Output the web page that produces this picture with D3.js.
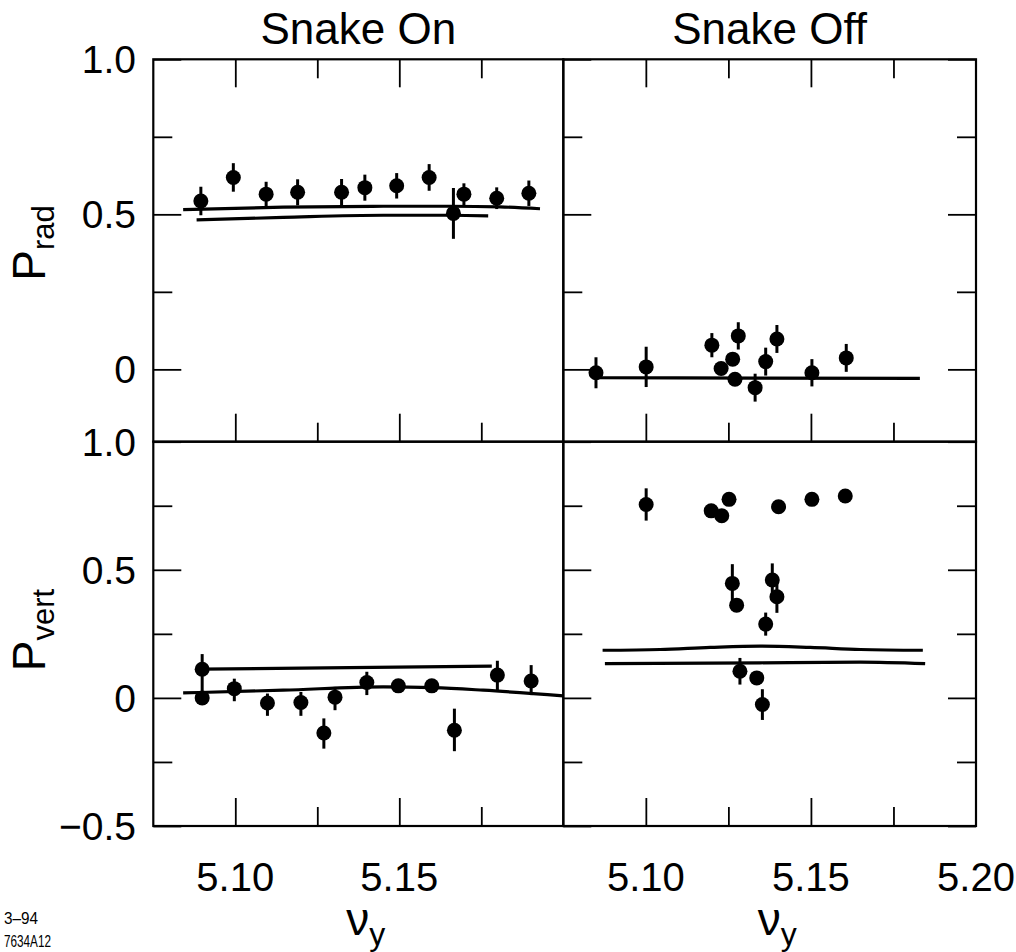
<!DOCTYPE html>
<html><head><meta charset="utf-8">
<script src="https://cdn.jsdelivr.net/npm/d3@7"></script>
<style>
body{margin:0;background:#fff}
svg{display:block}
text{font-family:"Liberation Sans",Arial,Helvetica,sans-serif;fill:#000}
</style>
</head><body>
<svg id="chart" width="1016" height="952"></svg>
<script>
// ---------- data ----------
const panelTitles = ["Snake On", "Snake Off"];
const yTitles = ["P", "rad", "P", "vert"];
const xTickLabelsLeft = [5.10, 5.15];
const xTickLabelsRight = [5.10, 5.15, 5.20];
const xMajor = [5.10, 5.15];
const xMinor = [5.125, 5.175];
const yTopLabels = [1.0, 0.5, 0];
const yTopMajor = [0, 0.5, 1.0];
const yTopMinor = [0.25, 0.75];
const yBotLabels = [1.0, 0.5, 0, -0.5];
const yBotMajor = [-0.5, 0, 0.5, 1.0];
const yBotMinor = [-0.25, 0.25, 0.75];

// Snake On, P_rad
const nuOnRad  = [5.0895, 5.0994, 5.1094, 5.1190, 5.1324, 5.1395, 5.1492, 5.1591, 5.1665, 5.1697, 5.1797, 5.1895];
const pOnRad   = [0.543, 0.619, 0.565, 0.571, 0.571, 0.586, 0.592, 0.619, 0.503, 0.565, 0.552, 0.568];
const errOnRad = [0.046, 0.046, 0.040, 0.042, 0.043, 0.042, 0.041, 0.043, 0.082, 0.035, 0.035, 0.041];
const calcOnRadA_nu = [5.0841, 5.1146, 5.1451, 5.1655, 5.1807, 5.1929];
const calcOnRadA_p  = [0.515, 0.523, 0.526, 0.526, 0.524, 0.518];
const calcOnRadB_nu = [5.0882, 5.1146, 5.1451, 5.1655, 5.1771];
const calcOnRadB_p  = [0.482, 0.490, 0.497, 0.497, 0.495];

// Snake Off, P_rad
const nuOffRad  = [5.0849, 5.1001, 5.1200, 5.1228, 5.1263, 5.1280, 5.1270, 5.1331, 5.1363, 5.1397, 5.1503, 5.1607];
const pOffRad   = [-0.011, 0.008, 0.078, 0.003, 0.033, 0.108, -0.032, -0.059, 0.025, 0.098, -0.011, 0.037];
const errOffRad = [0.050, 0.065, 0.039, 0.020, 0.020, 0.044, 0.020, 0.045, 0.045, 0.045, 0.044, 0.045];
const calcOffRad_nu = [5.0851, 5.1340, 5.1830];
const calcOffRad_p  = [-0.027, -0.028, -0.029];

// Snake On, P_vert
const nuOnVert    = [5.0899, 5.0899, 5.0997, 5.1098, 5.1200, 5.1270, 5.1304, 5.1401, 5.1497, 5.1599, 5.1668, 5.1799, 5.1902];
const pOnVert     = [0.112, 0.000, 0.036, -0.020, -0.018, -0.137, 0.003, 0.060, 0.047, 0.047, -0.126, 0.089, 0.066];
const errOnVertHi = [0.059, 0.020, 0.039, 0.037, 0.041, 0.057, 0.040, 0.042, 0.020, 0.020, 0.084, 0.056, 0.062];
const errOnVertLo = [0.112, 0.020, 0.049, 0.050, 0.052, 0.061, 0.051, 0.049, 0.020, 0.020, 0.082, 0.059, 0.055];
const calcOnVertA_nu = [5.0899, 5.1782];
const calcOnVertA_p  = [0.112, 0.124];
const calcOnVertB_nu = [5.0841, 5.1146, 5.1451, 5.1604, 5.1756, 5.2000];
const calcOnVertB_p  = [0.0195, 0.030, 0.043, 0.040, 0.030, 0.008];

// Snake Off, P_vert
const nuOffVert  = [5.1001, 5.1198, 5.1230, 5.1252, 5.1402, 5.1503, 5.1604, 5.1262, 5.1275, 5.1383, 5.1397, 5.1363, 5.1285, 5.1336, 5.1353];
const pOffVert   = [0.755, 0.730, 0.711, 0.775, 0.746, 0.775, 0.788, 0.447, 0.362, 0.460, 0.395, 0.288, 0.104, 0.078, -0.026];
const errOffVert = [0.063, 0.020, 0.020, 0.020, 0.020, 0.020, 0.020, 0.075, 0.020, 0.065, 0.063, 0.045, 0.052, 0.020, 0.060];
const calcOffVertA_nu = [5.0869, 5.1043, 5.1195, 5.1346, 5.1498, 5.1650, 5.1839];
const calcOffVertA_p  = [0.186, 0.189, 0.197, 0.202, 0.197, 0.189, 0.186];
const calcOffVertB_nu = [5.0876, 5.1346, 5.1650, 5.1846];
const calcOffVertB_p  = [0.134, 0.137, 0.140, 0.134];

const stamp = ["3\u201394", "7634A12"];

// ---------- layout ----------
const svg = d3.select("#chart");
svg.append("rect").attr("width", 1016).attr("height", 952).attr("fill", "#fff");

const xDomain = [5.075, 5.20];
const xLeft  = d3.scaleLinear().domain(xDomain).range([153.3, 563.3]);
const xRight = d3.scaleLinear().domain(xDomain).range([563.3, 976]);
const yTop = d3.scaleLinear().domain([-0.2333, 1.0]).range([441.7, 59.3]);
const yBot = d3.scaleLinear().domain([-0.5, 1.0]).range([826, 441.7]);

const MAJ = 28, MIN = 19;

function tickGroup(axisGen, scale, values, size, tx, ty) {
  const g = svg.append("g").attr("transform", `translate(${tx},${ty})`)
    .call(axisGen(scale).tickValues(values).tickSize(size).tickFormat(""));
  g.select(".domain").remove();
  g.selectAll("line").attr("stroke", "#000").attr("stroke-width", 1.8);
  return g;
}

function panel(x, y, opts) {
  const [x0, x1] = x.range();
  const [y1, y0] = y.range();
  svg.append("rect").attr("x", x0).attr("y", y0).attr("width", x1 - x0).attr("height", y1 - y0)
    .attr("fill", "none").attr("stroke", "#000").attr("stroke-width", 2.2);
  const maj = opts.yMajor, min = opts.yMinor;
  if (opts.left) {
    tickGroup(d3.axisLeft, y, maj, -MAJ, x0, 0);
    tickGroup(d3.axisLeft, y, min, -MIN, x0, 0);
  }
  if (opts.right) {
    tickGroup(d3.axisRight, y, maj, -MAJ, x1, 0);
    tickGroup(d3.axisRight, y, min, -MIN, x1, 0);
  }
  if (opts.top) {
    tickGroup(d3.axisTop, x, xMajor, -MAJ, 0, y0);
    tickGroup(d3.axisTop, x, xMinor, -MIN, 0, y0);
  }
  if (opts.bottom) {
    tickGroup(d3.axisBottom, x, xMajor, -MAJ, 0, y1);
    tickGroup(d3.axisBottom, x, xMinor, -MIN, 0, y1);
  }
}

panel(xLeft,  yTop, {yMajor: yTopMajor, yMinor: yTopMinor, left: true,  right: false, top: true, bottom: true});
panel(xRight, yTop, {yMajor: yTopMajor, yMinor: yTopMinor, left: true,  right: true,  top: true, bottom: true});
panel(xLeft,  yBot, {yMajor: yBotMajor, yMinor: yBotMinor, left: true,  right: false, top: false, bottom: true});
panel(xRight, yBot, {yMajor: yBotMajor, yMinor: yBotMinor, left: true,  right: true,  top: false, bottom: true});

// curves
function curve(x, y, nu, p) {
  const line = d3.line().x(d => x(d[0])).y(d => y(d[1])).curve(d3.curveMonotoneX);
  svg.append("path").datum(nu.map((v, i) => [v, p[i]]))
    .attr("d", line).attr("fill", "none").attr("stroke", "#000").attr("stroke-width", 3.2)
    .attr("stroke-linecap", "butt");
}
curve(xLeft, yTop, calcOnRadA_nu, calcOnRadA_p);
curve(xLeft, yTop, calcOnRadB_nu, calcOnRadB_p);
curve(xRight, yTop, calcOffRad_nu, calcOffRad_p);
curve(xLeft, yBot, calcOnVertA_nu, calcOnVertA_p);
curve(xLeft, yBot, calcOnVertB_nu, calcOnVertB_p);
curve(xRight, yBot, calcOffVertA_nu, calcOffVertA_p);
curve(xRight, yBot, calcOffVertB_nu, calcOffVertB_p);

// points with error bars
function points(x, y, nu, p, errHi, errLo) {
  const data = nu.map((v, i) => ({nu: v, p: p[i], hi: errHi[i], lo: errLo[i]}));
  const g = svg.append("g");
  g.selectAll("line").data(data).join("line")
    .attr("x1", d => x(d.nu)).attr("x2", d => x(d.nu))
    .attr("y1", d => y(d.p + d.hi)).attr("y2", d => y(d.p - d.lo))
    .attr("stroke", "#000").attr("stroke-width", 3);
  g.selectAll("circle").data(data).join("circle")
    .attr("cx", d => x(d.nu)).attr("cy", d => y(d.p)).attr("r", 7.5).attr("fill", "#000");
}
points(xLeft, yTop, nuOnRad, pOnRad, errOnRad, errOnRad);
points(xRight, yTop, nuOffRad, pOffRad, errOffRad, errOffRad);
points(xLeft, yBot, nuOnVert, pOnVert, errOnVertHi, errOnVertLo);
points(xRight, yBot, nuOffVert, pOffVert, errOffVert, errOffVert);

// ---------- text ----------
const fmtY = v => v === 0 ? "0" : (v < 0 ? "\u2212" : "") + Math.abs(v).toFixed(1);
function yLabels(y, vals) {
  svg.append("g").selectAll("text").data(vals).join("text")
    .attr("x", 136).attr("y", d => y(d)).attr("dy", "0.36em")
    .attr("text-anchor", "end").attr("font-size", 39).text(fmtY);
}
yLabels(yTop, yTopLabels);
yLabels(yBot, yBotLabels);

function xLabels(x, vals) {
  svg.append("g").selectAll("text").data(vals).join("text")
    .attr("x", d => x(d)).attr("y", 891)
    .attr("text-anchor", "middle").attr("font-size", 40).text(d => d.toFixed(2));
}
xLabels(xLeft, xTickLabelsLeft);
xLabels(xRight, xTickLabelsRight);

// panel titles
[xLeft, xRight].forEach((x, i) => {
  const [a, b] = x.range();
  svg.append("text").attr("x", (a + b) / 2).attr("y", 44)
    .attr("text-anchor", "middle").attr("font-size", 44).text(panelTitles[i]);
});

// y titles
function yTitle(cx, cy, main, sub) {
  const t = svg.append("text").attr("transform", `translate(${cx},${cy}) rotate(-90)`)
    .attr("text-anchor", "middle").attr("font-size", 46);
  t.append("tspan").text(main);
  t.append("tspan").attr("font-size", 31).attr("dy", 9).text(sub);
}
yTitle(45, 243, yTitles[0], yTitles[1]);
yTitle(45, 630, yTitles[2], yTitles[3]);

// x titles (nu_y)
[xLeft, xRight].forEach(x => {
  const [a, b] = x.range();
  const t = svg.append("text").attr("x", (a + b) / 2 - 12).attr("y", 935).attr("font-size", 46);
  t.append("tspan").text("\u03BD");
  t.append("tspan").attr("font-size", 32).attr("dy", 10).text("y");
});

// stamp
svg.append("text").attr("x", 4).attr("y", 924).attr("font-size", 17)
  .attr("textLength", 34).attr("lengthAdjust", "spacingAndGlyphs").text(stamp[0]);
svg.append("text").attr("x", 4).attr("y", 947).attr("font-size", 17)
  .attr("textLength", 47).attr("lengthAdjust", "spacingAndGlyphs").text(stamp[1]);
</script>
</body></html>
